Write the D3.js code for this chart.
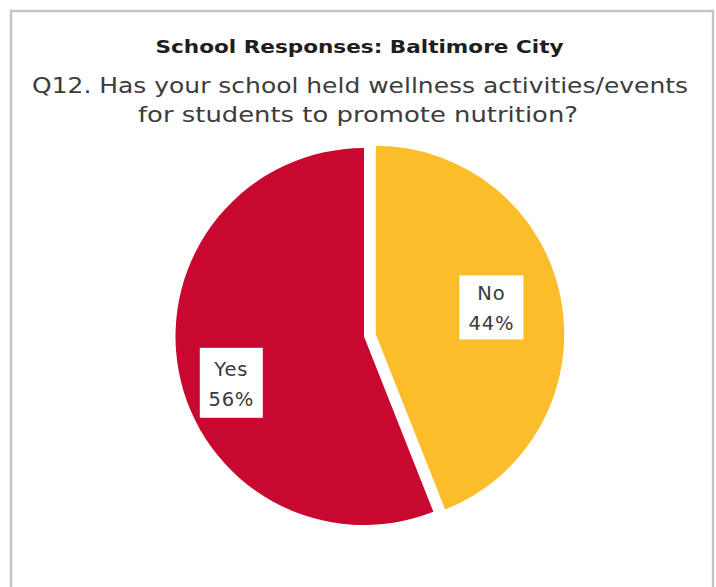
<!DOCTYPE html>
<html>
<head>
<meta charset="utf-8">
<script src="https://cdn.jsdelivr.net/npm/d3@7"></script>
<style>
  html, body { margin: 0; padding: 0; background: #fff; }
  svg { display: block; }
</style>
</head>
<body>
<div id="chart"></div>
<script>
// Survey answers and their shares (percent)
const categories = ["No", "Yes"];
const shares = [44, 56];
const sliceColors = ["#FCBD2A", "#C8082F"];
const titleText = "School Responses: Baltimore City";
const questionLines = [
  "Q12. Has your school held wellness activities/events",
  "for students to promote nutrition?"
];

const W = 716, H = 587;
const cx = 364, cy = 336.5, radius = 188.5;
const explodeOffset = 12;   // the "No" slice is pulled out from the centre
const labelRadius = radius * 0.66;
// small manual nudges so the label boxes sit where the author placed them
const labelNudge = { No: [-6.6, -3.5], Yes: [-10.5, 23] };

const svg = d3.select("#chart").append("svg")
  .attr("width", W).attr("height", H);

// frame around the figure (continues past the bottom edge)
svg.append("rect")
  .attr("x", 11).attr("y", 11)
  .attr("width", 702).attr("height", 620)
  .attr("fill", "none")
  .attr("stroke", "#c4c4c4")
  .attr("stroke-width", 2.4);

// titles
svg.append("text")
  .attr("x", 359.5).attr("y", 53)
  .attr("text-anchor", "middle")
  .attr("font-family", "DejaVu Sans, sans-serif")
  .attr("font-weight", "bold")
  .attr("font-size", 17.5)
  .attr("fill", "#1e1e1e")
  .attr("textLength", 408)
  .attr("lengthAdjust", "spacingAndGlyphs")
  .text(titleText);

const qWidths = [656, 440];
const qBaselines = [93, 122];
questionLines.forEach((line, i) => {
  svg.append("text")
    .attr("x", i === 0 ? 360 : 358)
    .attr("y", qBaselines[i])
    .attr("text-anchor", "middle")
    .attr("font-family", "DejaVu Sans, sans-serif")
    .attr("font-size", 22)
    .attr("fill", "#3c3c3c")
    .attr("textLength", qWidths[i])
    .attr("lengthAdjust", "spacingAndGlyphs")
    .text(line);
});

// pie layout: starts at 12 o'clock, goes clockwise, keeps data order
const pie = d3.pie().sort(null).value(d => d.value);
const data = categories.map((c, i) => ({ label: c, value: shares[i], color: sliceColors[i] }));
const arcs = pie(data);

const arc = d3.arc().innerRadius(0).outerRadius(radius);
const labelArc = d3.arc().innerRadius(labelRadius).outerRadius(labelRadius);

const sliceOffset = d => {
  if (d.data.label !== "No") return [0, 0];
  const mid = (d.startAngle + d.endAngle) / 2;
  return [Math.sin(mid) * explodeOffset, -Math.cos(mid) * explodeOffset];
};

const g = svg.append("g").attr("transform", `translate(${cx},${cy})`);

const slices = g.selectAll("g.slice")
  .data(arcs)
  .join("g")
  .attr("class", "slice")
  .attr("transform", d => {
    const [dx, dy] = sliceOffset(d);
    return `translate(${dx},${dy})`;
  });

slices.append("path")
  .attr("d", arc)
  .attr("fill", d => d.data.color);

// value labels in white boxes
const boxSize = { No: [64, 64], Yes: [63, 70] };
const labels = slices.append("g")
  .attr("transform", d => {
    const [x, y] = labelArc.centroid(d);
    const [nx, ny] = labelNudge[d.data.label];
    return `translate(${x + nx},${y + ny})`;
  });

labels.append("rect")
  .attr("x", d => -boxSize[d.data.label][0] / 2)
  .attr("y", d => -boxSize[d.data.label][1] / 2)
  .attr("width", d => boxSize[d.data.label][0])
  .attr("height", d => boxSize[d.data.label][1])
  .attr("fill", "#ffffff");

labels.append("text")
  .attr("text-anchor", "middle")
  .attr("font-family", "DejaVu Sans, sans-serif")
  .attr("font-size", 19.5)
  .attr("letter-spacing", 0.8)
  .attr("fill", "#3a3a3a")
  .selectAll("tspan")
  .data(d => [d.data.label, d.data.value + "%"])
  .join("tspan")
  .attr("x", 0)
  .attr("y", (t, i) => i === 0 ? -7 : 23)
  .text(t => t);
</script>
</body>
</html>
